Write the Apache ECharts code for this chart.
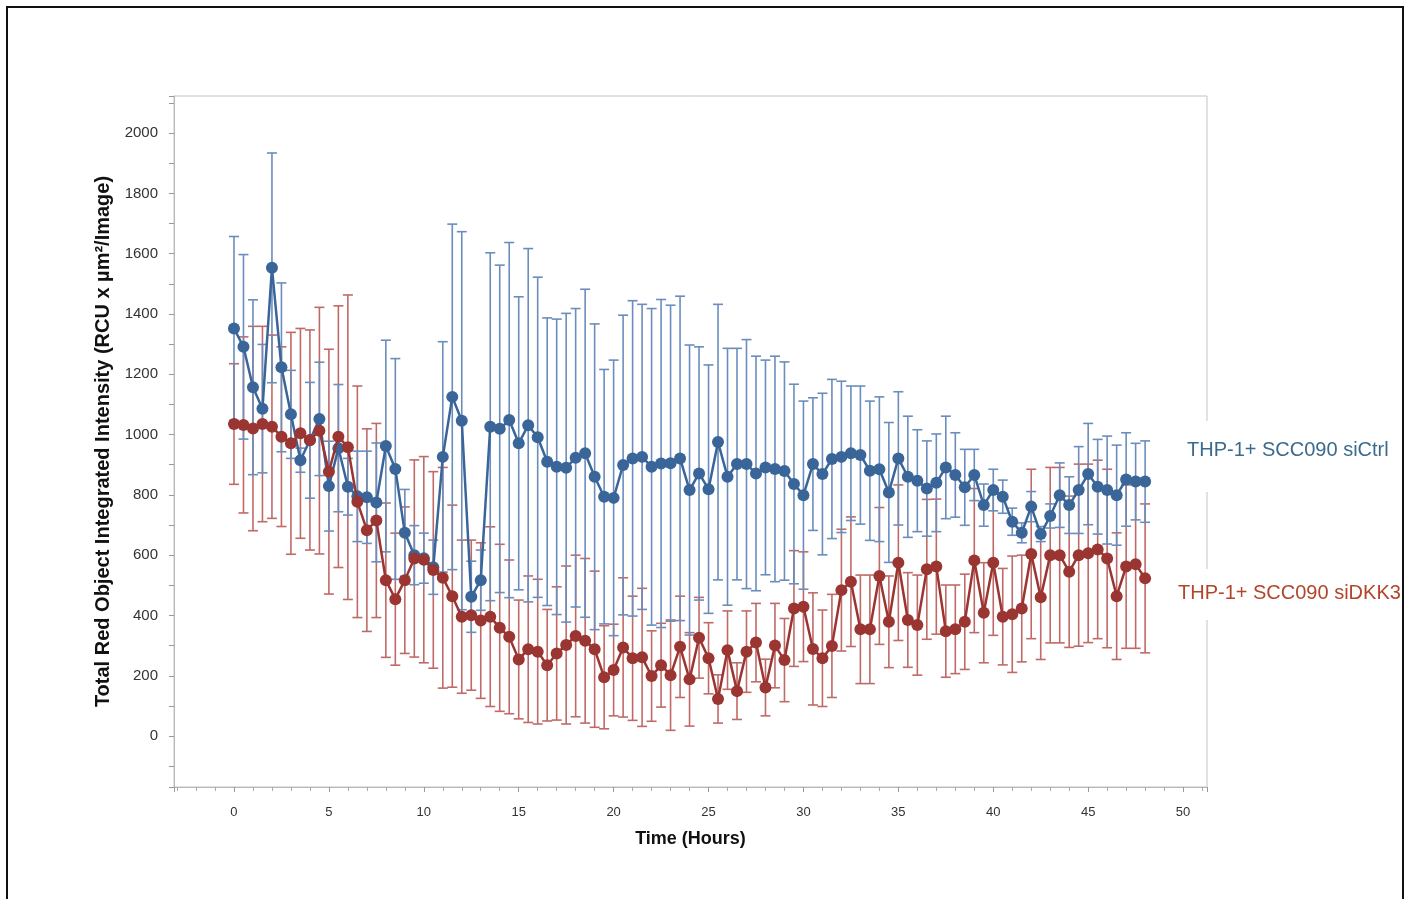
<!DOCTYPE html>
<html>
<head>
<meta charset="utf-8">
<script src="https://cdn.jsdelivr.net/npm/echarts@6/dist/echarts.min.js"></script>
<style>
html,body{margin:0;padding:0;background:#fff;overflow:hidden;}
#chart{position:absolute;left:0;top:0;width:1410px;height:899px;}
#frame{position:absolute;left:6px;top:6px;width:1398px;height:1000px;box-sizing:border-box;border:2px solid #111;pointer-events:none;}
</style>
</head>
<body>
<div id="chart"></div>
<div id="frame"></div>
<script>
const hours = [0,0.5,1,1.5,2,2.5,3,3.5,4,4.5,5,5.5,6,6.5,7,7.5,8,8.5,9,9.5,
  10,10.5,11,11.5,12,12.5,13,13.5,14,14.5,15,15.5,16,16.5,17,17.5,18,18.5,19,19.5,
  20,20.5,21,21.5,22,22.5,23,23.5,24,24.5,25,25.5,26,26.5,27,27.5,28,28.5,29,29.5,
  30,30.5,31,31.5,32,32.5,33,33.5,34,34.5,35,35.5,36,36.5,37,37.5,38,38.5,39,39.5,
  40,40.5,41,41.5,42,42.5,43,43.5,44,44.5,45,45.5,46,46.5,47,47.5,48];

const seriesNames = ['THP-1+ SCC090 siCtrl', 'THP-1+ SCC090 siDKK3'];

const siCtrlMean = [1352,1291,1157,1086,1553,1223,1067,915,981,1052,
  829,955,827,795,792,775,962,886,674,600,
  590,560,926,1125,1046,462,517,1026,1019,1048,
  971,1031,991,910,893,890,923,938,860,794,
  790,899,921,926,893,904,905,921,816,871,
  819,975,860,902,902,871,891,886,879,836,
  799,902,869,919,926,938,932,880,885,808,
  921,860,847,821,840,891,866,825,866,766,
  816,794,711,674,761,670,730,799,766,816,
  869,827,816,799,851,844,844];

const siCtrlSD = [305,306,290,213,381,280,146,40,192,188,
  149,211,94,150,153,197,351,366,144,98,
  83,90,382,573,627,118,100,577,543,589,
  486,586,531,477,490,512,495,544,507,422,
  457,497,523,506,525,544,524,538,481,420,
  412,457,426,384,413,389,356,374,362,331,
  312,220,268,264,251,223,229,231,240,232,
  221,201,169,158,162,170,140,126,85,70,
  69,55,45,33,50,25,40,107,94,144,
  168,157,179,166,155,127,135];

const siDKK3Mean = [1035,1032,1020,1035,1026,993,971,1004,982,1013,
  877,993,958,777,683,715,517,454,517,589,
  585,551,525,464,396,401,383,396,359,329,
  254,288,280,235,274,302,332,316,288,195,
  219,294,258,261,199,235,202,296,188,326,
  258,123,285,149,280,310,161,300,252,423,
  429,289,258,299,484,512,354,354,531,379,
  575,385,368,553,562,348,354,379,582,409,
  575,396,404,423,604,460,600,600,545,600,
  606,619,589,464,562,570,523];

const siDKK3SD = [200,292,339,324,304,298,368,348,365,409,
  406,434,505,384,336,322,256,219,243,327,
  342,326,366,302,254,249,258,298,277,255,
  197,243,240,185,221,262,268,273,259,171,
  152,231,206,229,150,139,183,168,155,134,
  118,80,130,94,135,130,94,140,138,192,
  182,186,160,171,202,215,180,180,227,152,
  258,157,166,232,224,153,147,158,239,166,
  241,160,193,177,281,206,291,291,251,302,
  296,296,296,210,271,279,247];

const xTickStep = 5;
const yTickStep = 200;

const blueMarker = '#3a6599';
const blueBar = '#6a8dbd';
const redMarker = '#9a3532';
const redBar = '#c06a67';

function meanData(m){ return hours.map((h,i)=>[h, m[i]]); }
function errData(m, sd){ return hours.map((h,i)=>[h, m[i]-sd[i], m[i]+sd[i]]); }

function errRender(color){
  return function(params, api){
    const x = api.value(0), lo = api.value(1), hi = api.value(2);
    const pH = api.coord([x, hi]);
    const pL = api.coord([x, lo]);
    const hw = 5;
    const st = {stroke: color, lineWidth: 1.6};
    return {type:'group', children:[
      {type:'line', shape:{x1:pH[0], y1:pH[1], x2:pL[0], y2:pL[1]}, style:st},
      {type:'line', shape:{x1:pH[0]-hw, y1:pH[1], x2:pH[0]+hw, y2:pH[1]}, style:st},
      {type:'line', shape:{x1:pL[0]-hw, y1:pL[1], x2:pL[0]+hw, y2:pL[1]}, style:st}
    ]};
  };
}

const sans = '"Liberation Sans", Arial, sans-serif';

const chart = echarts.init(document.getElementById('chart'), null, {renderer:'canvas'});
chart.setOption({
  animation: false,
  backgroundColor: 'transparent',
  grid: {left:174, top:96, width:1033, height:691, show:true, borderColor:'#c4c4c4', borderWidth:1, backgroundColor:'transparent'},
  xAxis: {
    type:'value', min:-3.16, max:51.26, minInterval:xTickStep, maxInterval:xTickStep, splitNumber:10,
    name:'Time (Hours)', nameLocation:'middle', nameGap:43,
    nameTextStyle:{fontFamily:sans, fontWeight:'bold', fontSize:18, color:'#111'},
    axisLine:{show:true, onZero:false, lineStyle:{color:'#b8b8b8', width:1}},
    axisTick:{show:true, length:5, lineStyle:{color:'#999'}},
    minorTick:{show:true, splitNumber:5, length:4, lineStyle:{color:'#aaa'}},
    splitLine:{show:false},
    axisLabel:{showMinLabel:false, showMaxLabel:false, margin:19, fontFamily:sans, fontSize:13, color:'#333',
      formatter: v => (Math.abs(v % xTickStep) < 1e-6 ? String(v) : '')}
  },
  yAxis: {
    type:'value', min:-169, max:2123, minInterval:yTickStep, maxInterval:yTickStep, splitNumber:11,
    name:'Total Red Object Integrated Intensity (RCU x \u00b5m\u00b2/Image)', nameLocation:'middle', nameGap:57,
    nameTextStyle:{fontFamily:sans, fontWeight:'bold', fontSize:20, color:'#111'},
    axisLine:{show:true, onZero:false, lineStyle:{color:'#b8b8b8', width:1}},
    axisTick:{show:true, length:5, lineStyle:{color:'#999'}},
    minorTick:{show:true, splitNumber:2, length:5, lineStyle:{color:'#999'}},
    splitLine:{show:false},
    axisLabel:{showMinLabel:false, showMaxLabel:false, margin:16, fontFamily:sans, fontSize:15, color:'#333',
      formatter: v => (Math.abs(v % yTickStep) < 1e-6 ? String(v) : '')}
  },
  series: [
    {type:'custom', name:seriesNames[1]+' SD', renderItem:errRender(redBar), data:errData(siDKK3Mean, siDKK3SD), encode:{x:0, y:[1,2]}, z:1, silent:true},
    {type:'custom', name:seriesNames[0]+' SD', renderItem:errRender(blueBar), data:errData(siCtrlMean, siCtrlSD), encode:{x:0, y:[1,2]}, z:2, silent:true},
    {type:'line', name:seriesNames[0], data:meanData(siCtrlMean), symbol:'circle', symbolSize:12, showAllSymbol:true,
      lineStyle:{color:blueMarker, width:2.5}, itemStyle:{color:blueMarker}, z:3},
    {type:'line', name:seriesNames[1], data:meanData(siDKK3Mean), symbol:'circle', symbolSize:12, showAllSymbol:true,
      lineStyle:{color:redMarker, width:2.5}, itemStyle:{color:redMarker}, z:4}
  ],
  graphic: [
    {type:'rect', shape:{x:1202, y:421, width:10, height:71}, style:{fill:'#fff'}, z:100},
    {type:'rect', shape:{x:1202, y:569, width:10, height:51}, style:{fill:'#fff'}, z:100},
    {type:'text', x:1187, y:450, style:{text:seriesNames[0], fill:'#3b6b8c', font:'20px "Liberation Sans", Arial, sans-serif', verticalAlign:'middle', align:'left'}, z:101},
    {type:'text', x:1178, y:593, style:{text:seriesNames[1], fill:'#b3452a', font:'20px "Liberation Sans", Arial, sans-serif', verticalAlign:'middle', align:'left'}, z:101}
  ]
});
</script>
</body>
</html>
